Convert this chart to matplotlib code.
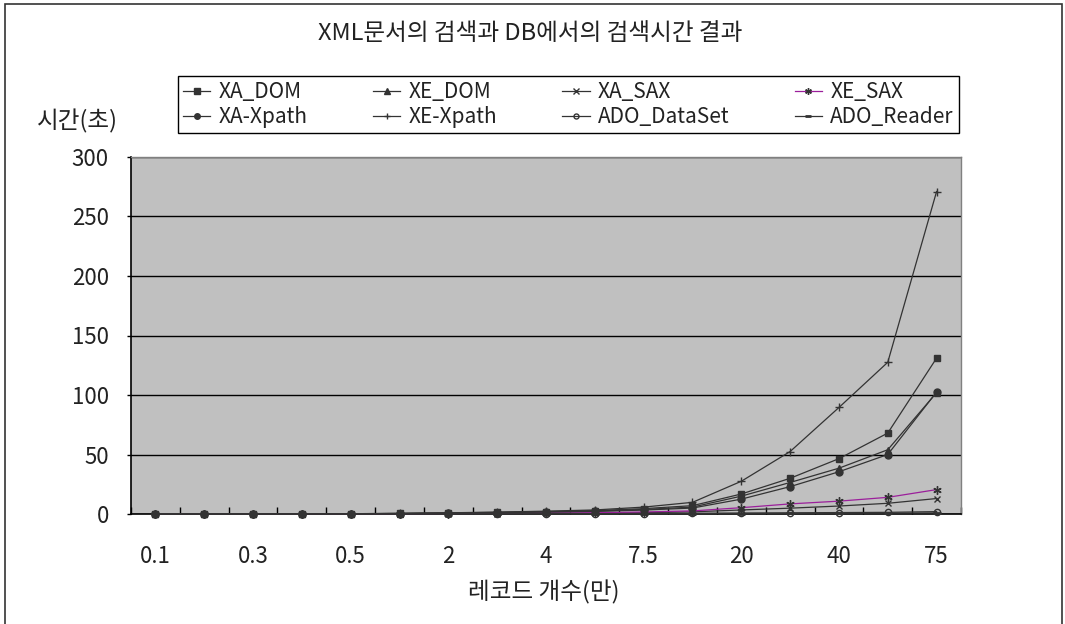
import matplotlib
matplotlib.use("Agg")
import matplotlib.pyplot as plt
from matplotlib.patches import Rectangle
import numpy as np

plt.rcParams["font.family"] = ["Noto Sans CJK KR", "DejaVu Sans"]

# record counts (unit: 10,000)
records = ["0.1", "0.2", "0.3", "0.4", "0.5", "1", "2", "3", "4", "5",
           "7.5", "10", "20", "30", "40", "50", "75"]

# search times (seconds)
xa_dom = [0.05, 0.1, 0.15, 0.2, 0.25, 0.5, 0.9, 1.4, 2.0, 2.8, 4.5, 7.0, 16.8, 30.0, 46.5, 68.0, 131.0]
xe_dom = [0.04, 0.08, 0.12, 0.16, 0.2, 0.4, 0.8, 1.2, 1.7, 2.4, 3.8, 5.8, 15.0, 26.5, 38.5, 54.0, 102.0]
xa_sax = [0.01, 0.02, 0.03, 0.04, 0.05, 0.1, 0.2, 0.35, 0.5, 0.7, 1.1, 1.8, 3.4, 4.9, 6.7, 9.0, 13.0]
xe_sax = [0.02, 0.04, 0.06, 0.08, 0.1, 0.2, 0.4, 0.6, 0.8, 1.1, 1.7, 2.6, 5.3, 8.5, 10.8, 14.0, 20.5]
xa_xpath = [0.04, 0.08, 0.12, 0.16, 0.2, 0.4, 0.7, 1.1, 1.6, 2.2, 3.3, 5.0, 12.5, 23.0, 35.5, 50.0, 102.5]
xe_xpath = [0.05, 0.1, 0.15, 0.2, 0.25, 0.5, 1.0, 1.6, 2.4, 3.4, 5.8, 9.8, 27.5, 52.5, 89.5, 127.5, 271.0]
ado_dataset = [0.01, 0.01, 0.02, 0.02, 0.03, 0.05, 0.1, 0.15, 0.2, 0.3, 0.4, 0.6, 0.8, 1.0, 1.2, 1.4, 2.0]
ado_reader = [0.0, 0.0, 0.01, 0.01, 0.01, 0.02, 0.05, 0.07, 0.1, 0.15, 0.2, 0.3, 0.4, 0.5, 0.6, 0.7, 0.9]

y_ticks = [0, 50, 100, 150, 200, 250, 300]

DARK = "#333333"
TEXT = "#222222"
MAGENTA = "#9B1F9B"

series = [
    ("XA_DOM", xa_dom, dict(marker="s", ms=5)),
    ("XE_DOM", xe_dom, dict(marker="^", ms=5)),
    ("XA_SAX", xa_sax, dict(marker="x", ms=5, mew=1)),
    ("XE_SAX", xe_sax, dict(marker=(6, 2, 0), ms=6, mew=1, color=MAGENTA, mec=DARK)),
    ("XA-Xpath", xa_xpath, dict(marker="o", ms=5)),
    ("XE-Xpath", xe_xpath, dict(marker="+", ms=6, mew=1)),
    ("ADO_DataSet", ado_dataset, dict(marker="o", ms=4.5, mfc="none", mew=1)),
    ("ADO_Reader", ado_reader, dict(marker="_", ms=6, mew=2)),
]

fig = plt.figure(figsize=(10.65, 6.24), dpi=100)
ax = fig.add_axes([131 / 1065, 1 - 514 / 624, 830 / 1065, 357 / 624])
ax.set_facecolor("#C0C0C0")

x = np.arange(len(records))
handles = {}
for name, vals, style in series:
    kw = dict(color=DARK, mec=DARK, mfc=DARK, lw=0.9)
    kw.update(style)
    (h,) = ax.plot(x, vals, label=name, clip_on=False, zorder=3, **kw)
    handles[name] = h

ax.set_xlim(-0.5, len(records) - 0.5)
ax.set_ylim(0, 300)
ax.set_yticks(y_ticks)
ax.set_yticklabels([str(v) for v in y_ticks], fontsize=16, color=TEXT)
ax.yaxis.grid(True, color="black", lw=1)
ax.set_axisbelow(True)

ax.set_xticks(x[::2])
ax.set_xticklabels(records[::2], fontsize=16, color=TEXT)
ax.set_xticks(np.arange(-0.5, len(records)), minor=True)
ax.tick_params(axis="x", which="major", length=0, pad=22)
ax.tick_params(axis="x", which="minor", direction="in", length=5, width=1, color="black")
ax.tick_params(axis="y", direction="out", length=3, width=1, pad=13)

for side in ("left", "bottom"):
    ax.spines[side].set_color("black")
    ax.spines[side].set_linewidth(1.2)
for side in ("top", "right"):
    ax.spines[side].set_color("#808080")
    ax.spines[side].set_linewidth(1)

fig.text(544 / 1065, 1 - 592 / 624, "레코드 개수(만)", fontsize=17,
         ha="center", va="center", color=TEXT)
fig.text(530 / 1065, 1 - 34 / 624, "XML문서의 검색과 DB에서의 검색시간 결과",
         fontsize=17, ha="center", va="center", color=TEXT)
fig.text(77 / 1065, 1 - 121 / 624, "시간(초)", fontsize=17,
         ha="center", va="center", color=TEXT)

# legend: row-major order across 4 columns
order = ["XA_DOM", "XA-Xpath", "XE_DOM", "XE-Xpath",
         "XA_SAX", "ADO_DataSet", "XE_SAX", "ADO_Reader"]
leg = fig.legend([handles[n] for n in order], order, ncol=4, mode="expand",
                 loc="center", bbox_to_anchor=(178 / 1065, 1 - 133 / 624, 781 / 1065, 57 / 624),
                 fontsize=15, handlelength=1.3, handletextpad=0.4, labelspacing=0.15,
                 borderpad=0.25, fancybox=False, framealpha=1, edgecolor="black",
                 borderaxespad=0, markerscale=0.8)
leg.get_frame().set_linewidth(1)
for t in leg.get_texts():
    t.set_color(TEXT)

# outer chart border (bottom edge falls outside the image)
fig.patches.append(Rectangle((5 / 1065, -0.1), 1057 / 1065, 1.1 - 4 / 624,
                             transform=fig.transFigure, fill=False,
                             edgecolor="#333333", lw=1.2, clip_on=False))

fig.savefig("out.png", dpi=100)
